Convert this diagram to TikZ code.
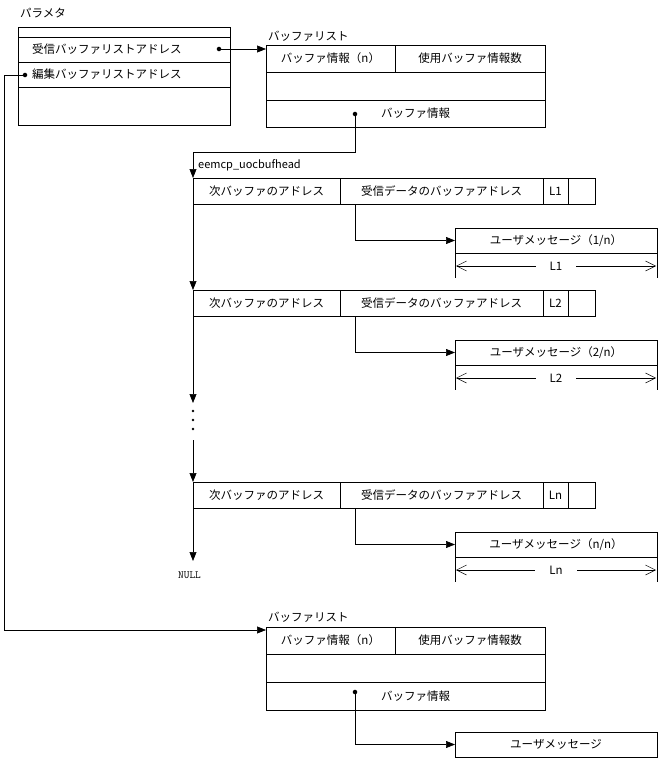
\documentclass[tikz,border=0pt]{standalone}
\usepackage{fontspec}
\setmainfont{Noto Sans CJK JP}
\usetikzlibrary{arrows.meta}
\begin{document}
\begin{tikzpicture}[x=1pt,y=-1pt,
  cell/.style={draw,anchor=north west,inner sep=0pt,outer sep=0pt,font=\fontsize{11.5}{13}\selectfont},
  lbl/.style={anchor=west,inner sep=0pt,font=\fontsize{11.5}{13}\selectfont},
  arr/.style={-{Triangle[length=9pt,width=7pt]},line width=0.6pt},
  dimarr/.style={{Straight Barb[length=10pt,width=10pt]}-{Straight Barb[length=10pt,width=10pt]},line width=0.5pt},
  dot/.style={circle,fill,inner sep=1.6pt}]
\useasboundingbox (0,0) rectangle (661,760);
% parameter
\node[lbl] (plbl) at (20,13) {パラメタ};
\draw (18,27) rectangle (230,125);
\draw (18,37) -- (230,37) (18,62) -- (230,62) (18,87) -- (230,87);
\node[lbl] (p1) at (32,49.5) {受信バッファリストアドレス};
\node[lbl] (p2) at (32,74.5) {編集バッファリストアドレス};
\node[dot] (d1) at (219,49) {};
\node[dot] (d2) at (25,75) {};
% buffer list 1
\node[lbl] (b1lbl) at (268,36) {バッファリスト};
\node[cell,minimum width=129pt,minimum height=27pt] (b1a) at (266,45) {バッファ情報（n）};
\node[cell,minimum width=150pt,minimum height=27pt] (b1b) at (395,45) {使用バッファ情報数};
\node[cell,minimum width=279pt,minimum height=28pt] (b1c) at (266,72) {};
\node[cell,minimum width=279pt,minimum height=27pt] (b1d) at (266,100) {\hspace{20pt}バッファ情報};
\node[dot] (b1dot) at (355,114) {};
\draw[arr] (d1) -- (b1a.west |- d1);
% records
\node[lbl] (head) at (198,165) {\fontsize{11}{13}\selectfont eemcp\_uocbufhead};
\foreach \i/\y/\L/\m in {1/178/L1/1,2/290/L2/2,3/482/Ln/n}{
  \node[cell,minimum width=147pt,minimum height=26pt] (r\i a) at (193,\y) {次バッファのアドレス};
  \node[cell,minimum width=203pt,minimum height=26pt] (r\i b) at (340,\y) {受信データのバッファアドレス};
  \node[cell,minimum width=25pt,minimum height=26pt] (r\i c) at (543,\y) {\L};
  \node[cell,minimum width=27pt,minimum height=26pt] (r\i d) at (568,\y) {};
  \node[cell,minimum width=202pt,minimum height=25pt] (m\i) at (455,\y+50) {ユーザメッセージ（\m/n）};
  \coordinate (m\i l) at (455,\y+100);
  \coordinate (m\i r) at (657,\y+100);
  \draw (m\i.south west) -- (m\i l) (m\i.south east) -- (m\i r);
  \coordinate (m\i dl) at (456,\y+88);
  \coordinate (m\i dr) at (656,\y+88);
  \node[lbl,anchor=center,fill=white,inner xsep=6pt] (m\i t) at (556,\y+88) {};
  \draw[dimarr] (m\i dl) -- (m\i dr);
  \node[anchor=center,fill=white,inner xsep=14pt,inner ysep=1pt,font=\fontsize{11.5}{13}\selectfont] (m\i lab) at (556,\y+88) {\L};
  \coordinate (c\i) at (355,\y+26);
  \draw[arr] (c\i) |- (m\i.west);
}
\coordinate (bend1) at (355,152);
\draw[arr] (b1dot) -- (bend1) -| (r1a.north west);
\draw[arr] (r1a.south west) -- (r2a.north west);
\coordinate (a2e) at (193,403);
\draw[arr] (r2a.south west) -- (a2e);
\node[circle,fill,inner sep=1pt] (v1) at (193,411) {};
\node[circle,fill,inner sep=1pt] (v2) at (193,420) {};
\node[circle,fill,inner sep=1pt] (v3) at (193,429) {};
\coordinate (a3s) at (193,440);
\draw[arr] (a3s) -- (r3a.north west);
\node[lbl,font=\fontsize{11}{13}\selectfont\ttfamily] (null) at (178,575) {NULL};
\draw[arr] (r3a.south west) -- (193,561);
% buffer list 2
\node[lbl] (b2lbl) at (268,617) {バッファリスト};
\node[cell,minimum width=129pt,minimum height=27pt] (b2a) at (266,627) {バッファ情報（n）};
\node[cell,minimum width=150pt,minimum height=27pt] (b2b) at (395,627) {使用バッファ情報数};
\node[cell,minimum width=279pt,minimum height=28pt] (b2c) at (266,654) {};
\node[cell,minimum width=279pt,minimum height=28pt] (b2d) at (266,682) {\hspace{20pt}バッファ情報};
\node[dot] (b2dot) at (355,692) {};
\node[cell,minimum width=202pt,minimum height=25pt] (m4) at (455,732) {ユーザメッセージ};
\draw[arr] (b2dot) |- (m4.west);
\coordinate (lc) at (4,630);
\draw[arr] (d2) -- (4,75) -- (lc) -- (b2a.west |- lc);
\end{tikzpicture}
\end{document}
